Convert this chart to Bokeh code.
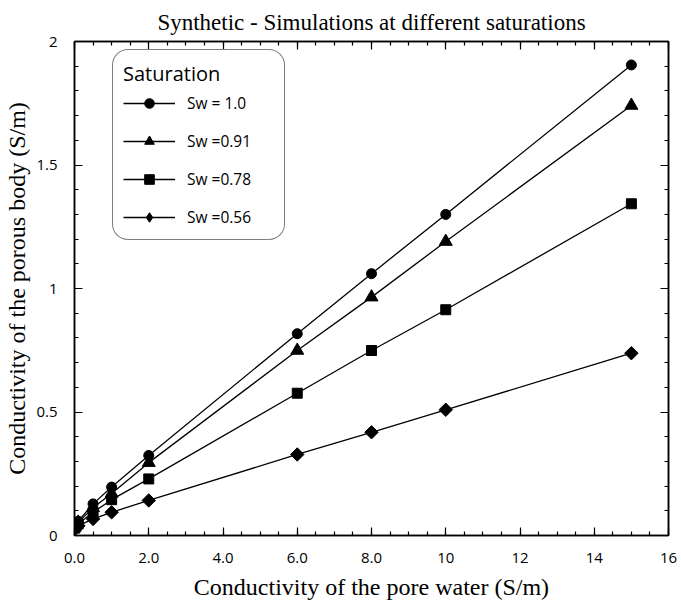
import math
from bokeh.plotting import figure
from bokeh.models import (Range1d, FixedTicker, LinearAxis, LegendItem, Legend)
from bokeh.embed import file_html
from bokeh.resources import INLINE

# ---------------- data ----------------
x_vals = [0.01, 0.1, 0.5, 1.0, 2.0, 6.0, 8.0, 10.0, 15.0]
sw_100 = [0.035, 0.058, 0.128, 0.196, 0.324, 0.817, 1.06, 1.30, 1.905]
sw_091 = [0.033, 0.053, 0.112, 0.170, 0.295, 0.749, 0.965, 1.19, 1.741]
sw_078 = [0.030, 0.047, 0.094, 0.145, 0.229, 0.576, 0.749, 0.914, 1.343]
sw_056 = [0.026, 0.039, 0.067, 0.094, 0.142, 0.328, 0.418, 0.509, 0.738]
series_labels = ["Sw = 1.0", "Sw =0.91", "Sw =0.78", "Sw =0.56"]
x_tick_vals = [0, 2, 4, 6, 8, 10, 12, 14, 16]
x_tick_labels = ["0.0", "2.0", "4.0", "6.0", "8.0", "10", "12", "14", "16"]
y_tick_vals = [0, 0.5, 1, 1.5, 2]
y_tick_labels = ["0", "0.5", "1", "1.5", "2"]

SERIF = "Liberation Serif"
SANS = "Open Sans"

p = figure(width=681, height=605, output_backend="svg", toolbar_location=None,
           x_range=Range1d(0, 16), y_range=Range1d(0, 2),
           min_border_left=74, min_border_right=13, min_border_top=41,
           min_border_bottom=70)
p.title.text = "Synthetic - Simulations at different saturations"
p.title.text_font = SERIF
p.title.text_font_size = "23px"
p.title.text_font_style = "normal"
p.title.text_color = "black"
p.title.align = "center"
p.title.standoff = 13
p.grid.visible = False
p.outline_line_color = "black"
p.outline_line_width = 1.5
p.background_fill_color = "white"

x_minor = [i * 0.5 for i in range(33)]
y_minor = [i * 0.1 for i in range(21)]


def style_axis(ax, show_labels, ticks, minor):
    ax.ticker = FixedTicker(ticks=ticks, minor_ticks=minor)
    ax.axis_line_color = "black"
    ax.axis_line_width = 1.5
    ax.major_tick_line_color = "black"
    ax.major_tick_line_width = 1.2
    ax.minor_tick_line_color = "black"
    ax.minor_tick_line_width = 1.2
    ax.major_tick_in = 8
    ax.major_tick_out = 0
    ax.minor_tick_in = 4
    ax.minor_tick_out = 0
    if show_labels:
        ax.major_label_text_font = SANS
        ax.major_label_text_font_size = "15px"
        ax.major_label_text_color = "black"
    else:
        ax.major_label_text_font_size = "1px"
        ax.major_label_text_color = None
        ax.major_label_standoff = 0


xa = p.xaxis[0]
style_axis(xa, True, x_tick_vals, x_minor)
xa.major_label_overrides = {v: l for v, l in zip(x_tick_vals, x_tick_labels)}
xa.major_label_standoff = 17
xa.axis_label = "Conductivity of the pore water (S/m)"
xa.axis_label_text_font = SERIF
xa.axis_label_text_font_size = "24px"
xa.axis_label_text_font_style = "normal"
xa.axis_label_text_color = "black"
xa.axis_label_standoff = 8

ya = p.yaxis[0]
style_axis(ya, True, y_tick_vals, y_minor)
ya.major_label_overrides = {v: l for v, l in zip(y_tick_vals, y_tick_labels)}
ya.major_label_standoff = 17
ya.axis_label = "Conductivity of the porous body (S/m)"
ya.axis_label_text_font = SERIF
ya.axis_label_text_font_size = "24px"
ya.axis_label_text_font_style = "normal"
ya.axis_label_text_color = "black"
ya.axis_label_standoff = 3

top = LinearAxis()
style_axis(top, False, x_tick_vals, x_minor)
p.add_layout(top, "above")
right = LinearAxis()
style_axis(right, False, y_tick_vals, y_minor)
p.add_layout(right, "right")

# ---------------- series ----------------
series = [
    (sw_100, "circle", 10, 0, "circle"),
    (sw_091, "triangle", 13, 0, "triangle"),
    (sw_078, "square", 10, 0, "square"),
    (sw_056, "square", 9.5, math.pi / 4, "diamond"),
]
items = []
for (ys, marker, size, ang, leg_marker), lab in zip(series, series_labels):
    ln = p.line(x_vals, ys, line_color="black", line_width=1.3)
    sc = p.scatter(x_vals, ys, marker=marker, size=size, angle=ang,
                   fill_color="black", line_color="black")
    if leg_marker == marker:
        items.append(LegendItem(label=lab, renderers=[ln, sc]))
    else:
        # legend-only glyph: markers in the legend are drawn unrotated
        lg = p.scatter(x_vals, ys, marker=leg_marker, size=0,
                       fill_color="black", line_color="black")
        items.append(LegendItem(label=lab, renderers=[ln, lg]))

leg = Legend(items=items)
p.add_layout(leg)
leg.location = (38, 295)
leg.title = "Saturation"
leg.title_text_font = SANS
leg.title_text_font_size = "20px"
leg.title_text_font_style = "normal"
leg.title_text_color = "black"
leg.title_standoff = 4
leg.label_text_font = SANS
leg.label_text_font_size = "15.5px"
leg.label_text_color = "black"
leg.glyph_width = 52
leg.glyph_height = 24
leg.label_height = 24
leg.label_width = 87
leg.label_standoff = 12
leg.spacing = 14
leg.padding = 10
leg.margin = 0
leg.border_line_color = "black"
leg.border_line_width = 1.3
leg.background_fill_alpha = 1
if "border_radius" in leg.properties():
    leg.border_radius = 16

open("out.html", "w").write(file_html(p, INLINE))
